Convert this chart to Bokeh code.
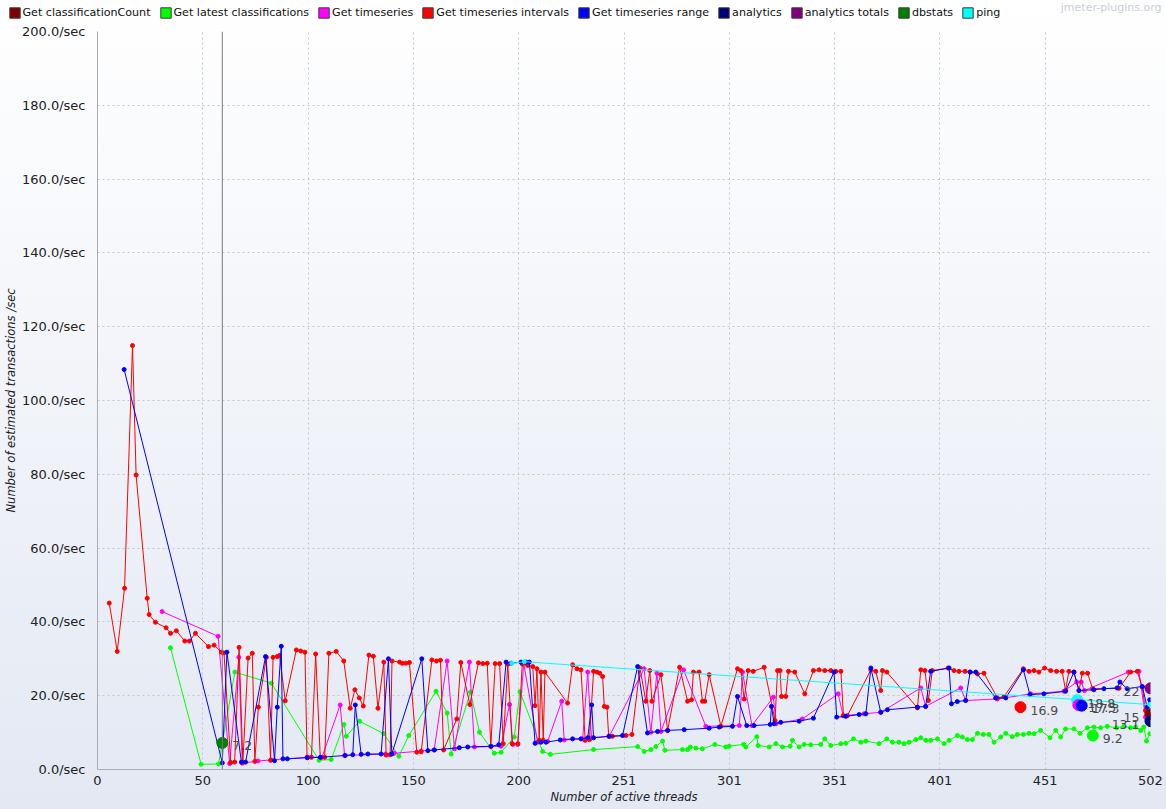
from bokeh.core.properties import value
from bokeh.embed import file_html
from bokeh.layouts import column
from bokeh.models import (ColumnDataSource, FixedTicker, Label, Legend, LegendItem,
                          PrintfTickFormatter, Range1d, Span)
from bokeh.plotting import figure
from bokeh.resources import INLINE

# jmeter "transactions per second vs threads" export

x_ticks = [0, 50.2, 100.4, 150.6, 200.8, 251, 301.2, 351.4, 401.6, 451.8, 502]
x_tick_labels = ["0", "50", "100", "150", "200", "251", "301", "351", "401", "451", "502"]
y_ticks = [0, 20, 40, 60, 80, 100, 120, 140, 160, 180, 200]

# Get timeseries intervals
intervals_x = [5.6, 9.4, 12.9, 16.7, 18.4, 23.7, 24.6, 27.6, 32.7, 34.8, 37.6, 41.6, 43.8, 46.7,
               52.9, 55.6, 59.1, 60.3, 63.5, 65.4, 67.5, 69.3, 71.8, 73.8, 75.0, 76.7, 80.5,
               82.5, 83.7, 85.7, 86.8, 89.5, 94.8, 96.9, 98.9, 99.9, 102.0, 104.0, 106.2, 108.3,
               110.3, 113.8, 117.4, 120.5, 122.7, 124.8, 126.7, 129.4, 131.5, 133.7, 136.5,
               137.6, 139.5, 140.4, 144.0, 145.3, 147.0, 148.7, 152.2, 154.3, 159.4, 161.6,
               163.5, 165.0, 171.3, 173.2, 177.5, 181.6, 183.7, 185.8, 187.5, 189.6, 191.7,
               193.4, 195.6, 197.7, 200.4, 202.5, 205.1, 207.5, 208.6, 209.5, 210.6, 211.4,
               212.5, 213.3, 224.1, 226.5, 228.6, 230.5, 232.5, 234.5, 236.5, 238.1, 239.4,
               240.8, 241.6, 242.9, 243.7, 245.5, 251.9, 254.8, 258.6, 261.4, 263.3, 264.3,
               268.6, 271.8, 277.5, 281.3, 283.2, 284.1, 286.8, 288.4, 289.5, 291.6, 297.2,
               305.1, 306.7, 308.3, 310.2, 312.6, 317.8, 323.0, 324.2, 325.4, 326.1, 328.1,
               329.4, 332.4, 337.2, 341.3, 344.0, 346.7, 349.6, 352.0, 354.4, 355.6, 357.5,
               368.7, 371.0, 373.4, 374.2, 376.3, 390.9, 392.5, 394.5, 396.1, 398.0, 405.5,
               408.3, 410.7, 413.6, 416.0, 419.5, 422.6, 429.0, 432.2, 441.4, 444.1, 446.5,
               448.8, 451.5, 454.4, 457.2, 459.9, 461.5, 463.1, 465.5, 467.9, 469.5, 472.0,
               474.4, 487.0, 492.5, 495.7, 498.1, 499.6, 501.2]
intervals_y = [45.1, 32.0, 49.1, 114.9, 79.8, 46.4, 42.0, 39.9, 38.4, 36.9, 37.6, 34.8, 34.8, 36.9,
               33.3, 33.7, 31.8, 31.6, 1.9, 2.0, 33.1, 1.9, 30.2, 31.5, 2.2, 16.9, 30.4,
               2.5, 30.4, 30.6, 30.9, 18.6, 32.4, 32.1, 31.8, 3.3, 3.3, 31.3, 3.3, 3.3,
               31.5, 32.0, 29.4, 16.6, 21.6, 19.4, 17.2, 31.0, 30.7, 16.6, 29.1,
               3.9, 4.0, 29.4, 29.1, 28.8, 28.8, 29.0, 4.7, 4.8, 29.7, 29.4,
               29.6, 5.3, 13.7, 29.0, 17.6, 28.9, 28.7, 28.8, 6.2, 28.7, 28.7,
               7.0, 28.5, 7.0, 7.0, 28.6, 28.2, 27.9, 17.3, 27.3, 7.9, 26.4,
               7.9, 26.4, 18.0, 28.4, 27.3, 27.0, 7.9, 8.1, 26.6, 26.4, 26.1,
               25.2, 17.1, 16.9, 9.0, 9.0, 9.2, 9.5, 27.5, 18.5, 26.8, 18.5,
               25.7, 10.6, 27.7, 18.5, 18.9, 26.4, 26.4, 18.5, 18.5, 25.7, 11.7,
               27.3, 26.8, 19.1, 26.8, 26.6, 27.7, 13.3, 26.8, 26.8, 19.8, 19.8,
               26.6, 26.4, 20.5, 26.8, 27.0, 26.8, 26.8, 26.6, 26.6, 14.6, 14.6,
               27.0, 26.6, 21.4, 26.8, 26.4, 16.7, 27.0, 26.8, 18.7, 26.8, 27.5,
               26.8, 26.6, 26.6, 26.4, 25.9, 26.1, 19.4, 19.8, 27.3, 26.6, 26.8,
               26.4, 27.5, 26.8, 26.6, 26.6, 21.4, 26.6, 26.4, 21.4, 26.1, 26.1,
               21.9, 22.0, 26.4, 26.6, 22.3, 16.0, 15.1]

# Get timeseries range
range_x = [12.7, 59.5, 61.7, 68.6, 70.6, 80.1, 84.4, 85.7, 87.6, 88.4, 90.5, 100.0, 106.3,
           118.1, 121.7, 122.9, 125.7, 128.9, 135.2, 138.7, 140.3, 154.6, 157.5, 160.6,
           172.5, 176.5, 187.6, 191.3, 194.8, 197.2, 201.9, 204.3, 205.9, 208.6, 211.4,
           213.8, 220.6, 226.5, 230.5, 233.7, 235.6, 236.5, 244.0, 250.3, 257.5, 262.2,
           267.0, 271.8, 279.7, 291.6, 296.4, 302.7, 305.1, 309.5, 313.0, 320.7, 321.3,
           322.6, 325.7, 334.5, 341.3, 351.1, 352.4, 356.7, 363.1, 366.3, 368.7, 373.4,
           376.6, 390.9, 394.8, 397.2, 406.0, 407.1, 409.9, 413.9, 416.0, 418.7, 428.2,
           433.0, 441.4, 444.5, 451.2, 461.5, 465.5, 467.9, 475.0, 479.8, 486.1, 487.4,
           490.9, 498.1, 500.4, 501.6]
range_y = [108.4, 1.8, 31.8, 2.0, 2.0, 30.6, 2.4, 16.9, 33.4, 2.9, 2.9, 3.2, 3.3,
           3.8, 4.0, 17.5, 4.1, 4.2, 4.2, 30.0, 4.2, 30.0, 5.1, 5.3,
           5.9, 6.1, 6.3, 6.7, 29.1, 28.8, 29.1, 29.1, 29.1, 7.1, 7.4,
           7.4, 8.0, 8.3, 8.3, 8.6, 17.5, 8.6, 9.0, 9.2, 27.9, 9.9,
           10.3, 10.6, 10.8, 11.2, 11.5, 11.7, 19.8, 11.9, 11.9, 12.2, 17.1,
           12.4, 12.8, 13.1, 13.9, 26.4, 14.2, 14.4, 14.9, 15.1, 27.5, 15.5,
           16.2, 16.9, 17.1, 26.6, 27.5, 17.8, 18.4, 18.7, 26.4, 26.4, 19.4,
           19.4, 27.0, 20.3, 20.5, 21.2, 26.4, 21.4, 21.6, 21.9, 22.1, 23.7,
           21.9, 22.5, 16.9, 18.9]

# Get timeseries
timeseries_x = [30.8, 57.5, 63.0, 67.4, 69.0, 76.5, 82.8, 100.3, 107.0, 115.7, 117.8, 137.3,
                141.5, 154.3, 160.5, 166.7, 170.2, 177.3, 179.7, 192.4, 196.4, 198.0, 200.3,
                203.2, 209.8, 214.6, 221.3, 222.5, 231.3, 233.7, 235.5, 244.0, 260.6, 263.8,
                266.7, 268.6, 279.4, 290.0, 306.0, 307.5, 312.0, 322.2, 323.5, 336.0, 353.1,
                355.5, 365.5, 373.4, 392.5, 394.8, 411.5, 413.9, 429.0, 444.9, 460.7, 466.8,
                469.0, 470.5, 491.4, 496.5, 499.6, 500.4]
timeseries_y = [42.8, 36.1, 1.6, 30.4, 1.7, 2.3, 2.6, 3.3, 3.3, 17.5, 3.8, 4.2,
                4.4, 5.0, 5.3, 29.4, 5.6, 29.1, 6.1, 6.3, 17.6, 6.8, 6.8,
                28.7, 7.4, 7.6, 18.5, 8.0, 8.3, 26.4, 8.6, 9.0, 27.3, 10.1,
                26.1, 10.3, 27.0, 11.7, 11.9, 26.4, 11.9, 19.6, 12.4, 13.7, 20.5,
                14.6, 15.1, 15.5, 22.1, 17.1, 22.1, 18.7, 19.1, 20.5, 21.2, 23.7,
                23.7, 21.4, 26.4, 26.6, 14.2, 13.5]

# Get latest classifications
latest_x = [34.8, 49.4, 57.7, 65.5, 82.9, 105.6, 111.4, 117.5, 118.6, 124.9, 136.5, 143.7,
            148.4, 161.4, 166.7, 168.6, 177.8, 182.1, 189.2, 192.4, 198.7, 201.4, 212.2,
            215.9, 236.5, 257.5, 260.6, 263.8, 266.2, 269.4, 270.5, 278.9, 281.3, 282.6,
            285.3, 288.4, 294.3, 299.5, 301.1, 308.0, 309.1, 314.3, 314.9, 320.2, 323.4,
            326.6, 330.2, 331.3, 334.5, 336.9, 340.0, 344.8, 346.7, 349.6, 354.4, 356.7,
            360.4, 363.9, 366.3, 372.6, 376.3, 379.0, 382.1, 384.5, 386.9, 390.1, 392.5,
            394.9, 397.2, 400.4, 403.6, 406.0, 409.9, 412.3, 414.7, 417.1, 419.5, 422.3,
            425.0, 427.4, 430.6, 433.0, 436.1, 438.5, 441.4, 444.1, 446.5, 449.6, 454.1,
            456.8, 459.2, 461.5, 465.5, 468.4, 471.9, 475.0, 478.2, 481.4, 485.8, 489.3,
            492.5, 494.9, 497.3, 498.8, 500.1, 501.7]
latest_y = [33.0, 1.4, 1.5, 26.4, 23.4, 2.5, 2.7, 12.2, 9.0, 13.1, 9.7, 3.6,
            9.2, 21.2, 15.3, 4.2, 21.0, 10.1, 4.4, 4.7, 8.8, 21.1, 4.9,
            4.1, 5.4, 6.2, 4.9, 5.4, 6.2, 7.7, 5.2, 5.4, 5.4, 6.1,
            5.8, 5.6, 6.8, 6.1, 6.3, 6.8, 6.1, 8.9, 6.5, 6.1, 7.0,
            6.1, 6.3, 7.9, 6.1, 6.8, 6.7, 6.8, 8.3, 6.5, 7.0, 7.1,
            8.3, 7.4, 7.7, 7.0, 8.3, 7.4, 7.4, 7.0, 7.4, 8.1, 8.6,
            7.9, 7.9, 8.3, 7.0, 7.9, 9.2, 8.8, 8.1, 8.1, 9.8, 9.5,
            9.5, 7.4, 8.8, 9.8, 8.9, 9.5, 9.5, 9.8, 9.7, 10.6, 8.6,
            10.6, 8.8, 11.0, 11.0, 9.8, 11.3, 11.5, 11.3, 11.7, 11.3, 11.7,
            11.3, 11.5, 10.6, 11.5, 7.7, 9.7]

# ping
ping_x = [197.5, 203.5, 501.6]
ping_y = [28.8, 29.2, 17.6]

# single-point samplers
count_x, count_y = [502], [15.0]
analytics_x, analytics_y = [502], [13.1]
totals_x, totals_y = [502], [22.0]
dbstats_x, dbstats_y = [59.5], [7.2]

# labelled marker per sampler
mark_names = ["Get timeseries intervals", "ping", "Get timeseries", "Get timeseries range",
              "Get latest classifications", "dbstats", "analytics totals",
              "Get classificationCount", "analytics"]
mark_x = [440.0, 467.1, 467.6, 469.2, 474.5, 59.5, 502, 502, 502]
mark_y = [16.9, 18.8, 17.5, 17.3, 9.2, 7.2, 22.0, 15.0, 13.1]
mark_text = ["16.9", "18.8", "17.5", "17.3", "9.2", "7.2", "22", "15", "13.1"]

ramp_marker_x = 59.5

colors = {
    "Get classificationCount": "#800000",
    "Get latest classifications": "#00ff00",
    "Get timeseries": "#ff00ff",
    "Get timeseries intervals": "#ff0000",
    "Get timeseries range": "#0000ff",
    "analytics": "#000080",
    "analytics totals": "#800080",
    "dbstats": "#008000",
    "ping": "#00ffff",
}

series = [
    ("Get classificationCount", count_x, count_y),
    ("Get latest classifications", latest_x, latest_y),
    ("Get timeseries", timeseries_x, timeseries_y),
    ("Get timeseries intervals", intervals_x, intervals_y),
    ("Get timeseries range", range_x, range_y),
    ("analytics", analytics_x, analytics_y),
    ("analytics totals", totals_x, totals_y),
    ("dbstats", dbstats_x, dbstats_y),
    ("ping", ping_x, ping_y),
]

FONT = "DejaVu Sans"
HEAD_W, HEAD_H = 1166, 20

# header strip: legend + watermark. x is measured in px from the right edge,
# so the (zero-size) legend swatch quads at x >= 0 fall outside the strip
head = figure(
    width=HEAD_W, height=HEAD_H,
    x_range=Range1d(-HEAD_W, 0), y_range=Range1d(0, HEAD_H),
    x_axis_type=None, y_axis_type=None,
    output_backend="svg", toolbar_location=None, min_border=0,
)
head.frame_align = False
head.background_fill_color = None
head.border_fill_color = None
head.outline_line_color = None
head.grid.visible = False

# main chart
p = figure(
    width=1166, height=809 - HEAD_H,
    x_range=Range1d(0, 502), y_range=Range1d(0, 200),
    output_backend="svg", toolbar_location=None,
    min_border_left=96, min_border_right=16, min_border_top=31 - HEAD_H, min_border_bottom=40,
)
p.frame_align = False
p.background_fill_color = None
p.border_fill_color = None
p.outline_line_color = None

p.xaxis.ticker = FixedTicker(ticks=x_ticks)
p.xaxis.major_label_overrides = {t: lab for t, lab in zip(x_ticks, x_tick_labels)}
p.yaxis.ticker = FixedTicker(ticks=y_ticks)
p.yaxis.formatter = PrintfTickFormatter(format="%.1f/sec")
p.xaxis.axis_label = "Number of active threads"
p.yaxis.axis_label = "Number of estimated transactions /sec"
for ax in (p.xaxis, p.yaxis):
    ax.axis_line_color = "#a8adb6"
    ax.major_tick_line_color = None
    ax.minor_tick_line_color = None
    ax.major_label_text_font = FONT
    ax.major_label_text_font_size = "13px"
    ax.major_label_text_color = "#222222"
    ax.axis_label_text_font = FONT
    ax.axis_label_text_font_size = "11.5px"
    ax.axis_label_text_font_style = "italic"
    ax.axis_label_text_color = "#222222"
p.xaxis.major_label_standoff = 0
p.xaxis.axis_label_standoff = 2
p.yaxis.major_label_standoff = 6
p.yaxis.axis_label_standoff = 1

p.grid.grid_line_color = "#c3c8d0"
p.grid.grid_line_dash = "2 3"

p.add_layout(Span(location=ramp_marker_x, dimension="height", line_color="#7a7a7a", line_width=1))

legend_items = []
for name, xs, ys in series:
    c = colors[name]
    src = ColumnDataSource(data=dict(x=xs, y=ys))
    if len(xs) > 1:
        p.line("x", "y", source=src, line_color=c, line_width=1)
        p.scatter("x", "y", source=src, size=4, fill_color=c, line_color=c)
    swatch = head.quad(left="x", right="x", top="y", bottom="y", source=src,
                       fill_color=c, line_color="#3c3c3c")
    legend_items.append(LegendItem(label=name, renderers=[swatch]))

mark_src = ColumnDataSource(data=dict(
    x=mark_x, y=mark_y, text=mark_text,
    color=[colors[n] for n in mark_names],
    align=["right" if x > 495 else "left" for x in mark_x],
    dx=[-11 if x > 495 else 10 for x in mark_x],
))
p.scatter("x", "y", source=mark_src, size=11, fill_color="color", line_color="color")
p.text("x", "y", text="text", source=mark_src, x_offset="dx", y_offset=3,
       text_align="align", text_baseline="middle", text_font=value(FONT),
       text_font_size="12.5px", text_color="#4a4a4a")

legend = Legend(items=legend_items, orientation="horizontal", location=(7.5, HEAD_H - 18.7),
                glyph_width=13, glyph_height=13, label_height=13, label_standoff=2,
                spacing=8, padding=0, margin=0,
                label_text_font=FONT, label_text_font_size="11.1px",
                label_text_color="#111111",
                background_fill_alpha=0, border_line_color=None)
head.add_layout(legend)

head.add_layout(Label(x=-5, y=HEAD_H - 7, text="jmeter-plugins.org",
                      text_align="right", text_baseline="middle", text_font=FONT,
                      text_font_size="11px", text_color="#c9ced8"))

page = column(head, p, spacing=0,
              styles={"background": "linear-gradient(#ffffff, #e3e8f3)"})

open("out.html", "w").write(file_html(page, INLINE))
